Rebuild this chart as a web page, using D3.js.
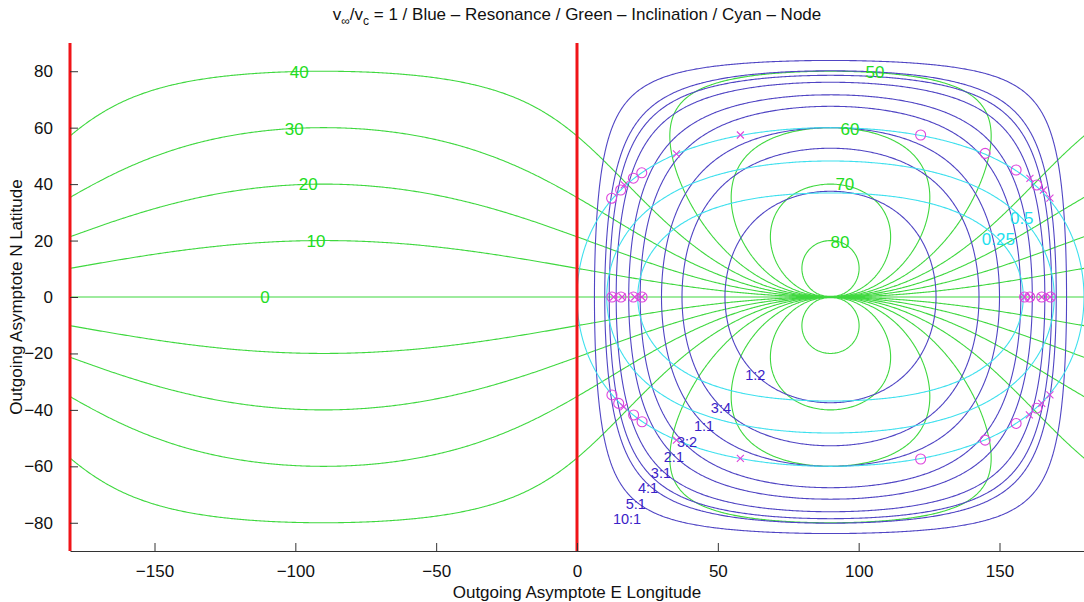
<!DOCTYPE html>
<html><head><meta charset="utf-8">
<script src="https://cdn.jsdelivr.net/npm/d3@7"></script>
<style>
body{margin:0;background:#fff;overflow:hidden}
text{font-family:"Liberation Sans",Arial,Helvetica,sans-serif}
</style>
</head><body>
<svg id="chart" width="1084" height="602"></svg>
<script>
// ---------------- data ----------------
const xTicks = [-150, -100, -50, 0, 50, 100, 150];
const yTicks = [-80, -60, -40, -20, 0, 20, 40, 60, 80];
const redLineLons = [-180, 0];

// inclination contour levels (deg, signed by hemisphere)
const inclinationLevels = [-80, -70, -60, -50, -40, -30, -20, -10, 0, 10, 20, 30, 40, 50, 60, 70, 80];
const inclinationLabelText = ["40", "30", "20", "10", "0", "50", "60", "70", "80"];
const inclinationLabelLon  = [-98.6, -100.4, -95.4, -92.7, -110.8, 105.8, 96.9, 95.1, 93.4];
const inclinationLabelLat  = [79.6, 59.4, 39.7, 19.8, 0, 79.6, 59.4, 39.7, 19.2];

// resonance (spacecraft period : planet period)
const resonanceRatios = [0.5, 0.75, 1, 1.5, 2, 3, 4, 5, 10];
const resonanceNames  = ["1:2", "3:4", "1:1", "3:2", "2:1", "3:1", "4:1", "5:1", "10:1"];
const resonanceLabelLon = [63.3, 51.1, 45.1, 39.05, 34.4, 29.8, 25.2, 20.9, 17.75];
const resonanceLabelLat = [-27.6, -39.4, -45.7, -51.4, -56.7, -62.2, -67.7, -73.2, -78.7];

// node distance contour levels
const nodeLevels = [0.25, 0.5, 1];
const nodeLabelText = ["0.25", "0.5"];
const nodeLabelLon  = [149.6, 157.9];
const nodeLabelLat  = [20.4, 27.9];

// magenta markers
const circleLon = [12.3, 15.5, 20.0, 23.0,  12.4, 15.6, 20.0, 23.1,  122, 144.9, 155.9, 163.2,  158.9, 160.7, 165.0, 168.1,  12.4, 14.8, 20.1, 23.1,  122, 144.9, 155.9, 163.2];
const circleLat = [35.0, 37.9, 42.1, 44.0,  0, 0, 0, 0,  57.4, 50.9, 45.0, 39.7,  0, 0, 0, 0,  -34.7, -37.7, -41.8, -44.2,  -57.4, -50.7, -44.8, -39.4];
const crossLon = [16.8, 35.3, 58.0,  13.0, 16.0, 20.5, 23.0,  160.8, 165.6, 167.9,  158.9, 161.0, 165.0, 168.0,  16.6, 35.3, 58.0,  160.6, 165.0, 167.9];
const crossLat = [39.7, 50.7, 57.4,  0, 0, 0, 0,  42.0, 37.9, 35.0,  0, 0, 0, 0,  -38.9, -50.7, -57.2,  -41.8, -37.7, -34.7];

// ---------------- layout ----------------
const svg = d3.select("#chart");
const X = d3.scaleLinear().domain([-180, 180]).range([70, 1084]);
const Y = d3.scaleLinear().domain([-90, 90]).range([551, 43]);

const C_GREEN = "#3fd83f", C_BLUE = "#5045c4", C_CYAN = "#3fe0ee", C_MAG = "#dd44dd", C_RED = "#f01418";
const C_BLUE_TXT = "#3a22c8";

svg.append("defs").append("clipPath").attr("id", "clip")
  .append("rect").attr("x", 70).attr("y", 43).attr("width", 1014).attr("height", 508);

// ---------------- fields on a grid ----------------
const step = 0.5, lonMin = -185, latMin = -94.75;
const nx = 741, ny = 380;
const rad = Math.PI / 180;
const fInc = new Float64Array(nx * ny), fRes = new Float64Array(nx * ny), fNode = new Float64Array(nx * ny);
for (let j = 0; j < ny; j++) {
  const phi = (latMin + j * step) * rad, cp = Math.cos(phi), sp = Math.sin(phi);
  for (let i = 0; i < nx; i++) {
    const lam = (lonMin + i * step) * rad, sl = Math.sin(lam);
    const k = j * nx + i;
    const cs = cp * sl;
    fInc[k] = Math.atan2(sp, 1 - cs) / rad;
    fRes[k] = cs > 1e-4 ? Math.pow(2 * cs, -1.5) : 1e4;
    const q = sp * sp + (cs - 1) * (cs - 1);
    fNode[k] = q < 1.9999 ? q / (2 - q) : 1e4;
  }
}
const gridProj = d3.geoTransform({
  point(cx, cy) {
    this.stream.point(X(lonMin + (cx - 0.5) * step), Y(latMin + (cy - 0.5) * step));
  }
});
const gpath = d3.geoPath(gridProj);
const contourGen = d3.contours().size([nx, ny]).smooth(true);

const plot = svg.append("g").attr("clip-path", "url(#clip)");
function drawContours(field, levels, color) {
  plot.append("g").selectAll("path")
    .data(contourGen.thresholds(levels)(field))
    .join("path")
    .attr("d", gpath)
    .attr("fill", "none")
    .attr("stroke", color)
    .attr("stroke-width", 1.1);
}
drawContours(fInc, inclinationLevels, C_GREEN);
drawContours(fRes, resonanceRatios, C_BLUE);
drawContours(fNode, nodeLevels, C_CYAN);

// markers
plot.append("g").selectAll("circle").data(circleLon).join("circle")
  .attr("cx", (d) => X(d)).attr("cy", (d, i) => Y(circleLat[i])).attr("r", 5)
  .attr("fill", "none").attr("stroke", C_MAG).attr("stroke-width", 1.1);
plot.append("g").selectAll("path").data(crossLon).join("path")
  .attr("d", (d, i) => { const x = X(d), y = Y(crossLat[i]), s = 3.5;
    return `M${x - s},${y - s}L${x + s},${y + s}M${x - s},${y + s}L${x + s},${y - s}`; })
  .attr("stroke", C_MAG).attr("stroke-width", 1.1).attr("fill", "none");

// red lines
svg.append("g").selectAll("line").data(redLineLons).join("line")
  .attr("x1", (d) => X(d)).attr("x2", (d) => X(d)).attr("y1", Y(90)).attr("y2", Y(-90))
  .attr("stroke", C_RED).attr("stroke-width", 3);

// axes
const fmt = (d) => d < 0 ? "\u2212" + Math.abs(d) : String(d);
const xAxis = svg.append("g").attr("transform", `translate(0,${Y(-90)})`)
  .call(d3.axisBottom(X).tickValues(xTicks).tickSizeInner(-8).tickSizeOuter(0).tickPadding(14).tickFormat(fmt));
const yAxis = svg.append("g").attr("transform", `translate(${X(-180)},0)`)
  .call(d3.axisLeft(Y).tickValues(yTicks).tickSizeInner(-8).tickSizeOuter(0).tickPadding(17).tickFormat(fmt));
[xAxis, yAxis].forEach((a) => {
  a.selectAll("text").attr("font-size", 17).attr("fill", "#111").style("font-family", '"Liberation Sans",Arial,sans-serif');
  a.selectAll("line").attr("stroke", "#333");
  a.select(".domain").attr("stroke", "#333");
});
yAxis.select(".domain").remove();

// labels on contours
const lbl = svg.append("g").attr("font-size", 17).attr("text-anchor", "middle").attr("dominant-baseline", "central");
lbl.selectAll("text.inc").data(inclinationLabelText).join("text").attr("class", "inc")
  .attr("x", (d, i) => X(inclinationLabelLon[i])).attr("y", (d, i) => Y(inclinationLabelLat[i]))
  .attr("fill", "#22dd22").text((d) => d);
lbl.selectAll("text.res").data(resonanceNames).join("text").attr("class", "res")
  .attr("x", (d, i) => X(resonanceLabelLon[i])).attr("y", (d, i) => Y(resonanceLabelLat[i]))
  .attr("font-size", 14.5).attr("fill", C_BLUE_TXT).text((d) => d);
lbl.selectAll("text.node").data(nodeLabelText).join("text").attr("class", "node")
  .attr("x", (d, i) => X(nodeLabelLon[i])).attr("y", (d, i) => Y(nodeLabelLat[i]))
  .attr("fill", "#22e0ee").text((d) => d);

// titles
const title = svg.append("text").attr("x", 577).attr("y", 20).attr("text-anchor", "middle")
  .attr("font-size", 17).attr("fill", "#111");
title.append("tspan").text("v");
title.append("tspan").attr("font-size", 12).attr("dy", 5).text("\u221E");
title.append("tspan").attr("dy", -5).text("/v");
title.append("tspan").attr("font-size", 12).attr("dy", 5).text("c");
title.append("tspan").attr("dy", -5).text(" = 1 / Blue \u2013 Resonance / Green \u2013 Inclination / Cyan \u2013 Node");

svg.append("text").attr("x", 577).attr("y", 598).attr("text-anchor", "middle")
  .attr("font-size", 17).attr("fill", "#111").text("Outgoing Asymptote E Longitude");
svg.append("text").attr("transform", "translate(22,297) rotate(-90)").attr("text-anchor", "middle")
  .attr("font-size", 17).attr("fill", "#111").text("Outgoing Asymptote N Latitude");
</script>
</body></html>
